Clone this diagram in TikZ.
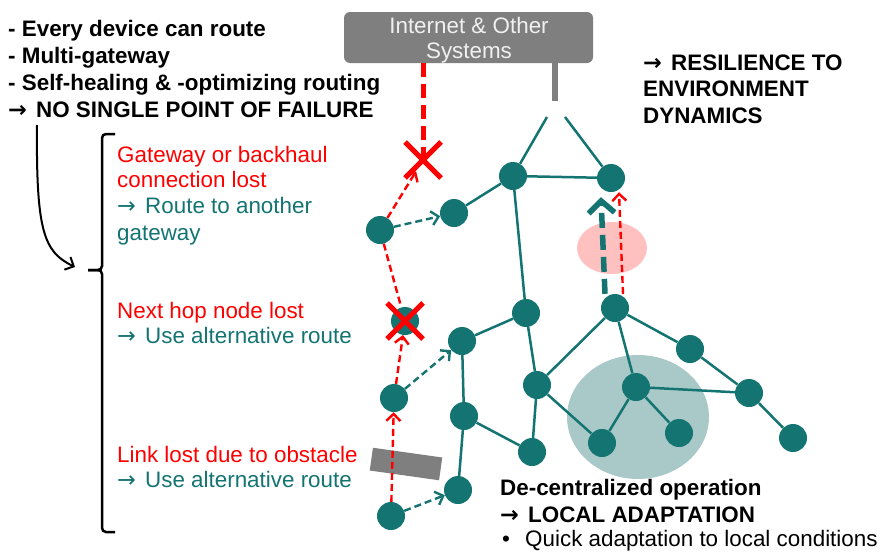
\documentclass[tikz,border=0pt]{standalone}
\usepackage{fontspec}
\setmainfont{Liberation Sans}
\newfontfamily\arrfont{DejaVu Sans}
\usetikzlibrary{arrows.meta,shapes.geometric}
\definecolor{teal1}{HTML}{137472}
\definecolor{ellteal}{HTML}{A9C9C8}
\definecolor{ellpink}{HTML}{FFC0C0}
\definecolor{boxgray}{HTML}{7F7F7F}
\definecolor{boxtext}{HTML}{F0F0F0}
\newcommand\tx{\fontsize{22.4}{26}\selectfont}
\newcommand\arw{{\arrfont →}\kern3pt}
\tikzset{
 tnode/.style={circle, fill=teal1, minimum size=28pt, inner sep=0pt},
 lnk/.style={draw=teal1, line width=2.5pt},
 rdashplain/.style={draw=red, line width=2.4pt, dash pattern=on 7pt off 4pt},
 rdash/.style={rdashplain, -{Straight Barb[length=7pt,width=14pt]}},
 tdash/.style={draw=teal1, line width=2.4pt, dash pattern=on 7pt off 4pt, -{Straight Barb[length=7pt,width=14pt]}},
 tthick/.style={draw=teal1, line width=5.5pt, dash pattern=on 15pt off 7pt, -{Straight Barb[length=12pt,width=26pt]}},
 rthick/.style={draw=red, line width=5pt, dash pattern=on 14pt off 7pt},
 xmk/.style={draw=red, line width=5pt},
 txt/.style={anchor=base west, inner sep=0pt, font=\tx},
 btxt/.style={anchor=base west, inner sep=0pt, font=\tx\bfseries},
 redtxt/.style={txt, text=red},
 teatxt/.style={txt, text=teal1},
}
\begin{document}
\begin{tikzpicture}[x=1pt,y=-1pt]
\useasboundingbox (0,0) rectangle (880,554);

% background ellipses
\node[ellipse, fill=ellteal, minimum width=142pt, minimum height=124pt, inner sep=0pt] (bigell) at (638,417) {};
\node[ellipse, fill=ellpink, minimum width=70pt, minimum height=52pt, inner sep=0pt] (pinkell) at (612,248) {};

% internet box
\node[rounded corners=6pt, fill=boxgray, minimum width=249pt, minimum height=51pt, inner sep=0pt] (inet) at (468.5,37.5) {};
\node[anchor=base, inner sep=0pt, font=\tx, text=boxtext] (inet1) at (469,33) {Internet \& Other};
\node[anchor=base, inner sep=0pt, font=\tx, text=boxtext] (inet2) at (469,58) {Systems};
\coordinate (stub) at (555,101);
\draw[boxgray, line width=5.5pt] (stub |- inet.south) -- (stub);

% obstacle
\node[fill=boxgray, minimum width=70pt, minimum height=23pt, inner sep=0pt, rotate=-8] (obs) at (406,464) {};

% network nodes
\node[tnode] (A) at (380,230) {};
\node[tnode] (B) at (454,213) {};
\node[tnode] (C) at (513,176) {};
\node[tnode] (D) at (611,178) {};
\node[tnode] (E) at (526,313) {};
\node[tnode] (F) at (615,308) {};
\node[tnode] (G) at (462,341) {};
\node[tnode] (H) at (394,398) {};
\node[tnode] (I) at (464,416) {};
\node[tnode] (J) at (537,385) {};
\node[tnode] (K) at (532,452) {};
\node[tnode] (L) at (391,516) {};
\node[tnode] (M) at (458,490) {};
\node[tnode] (N) at (602,443) {};
\node[tnode] (O) at (636,387) {};
\node[tnode] (P) at (690,349) {};
\node[tnode] (Q) at (749,393) {};
\node[tnode] (R) at (793,438) {};
\node[tnode] (S) at (679,433) {};
\node[tnode] (X2) at (405,321) {};
\node[circle, minimum size=26pt, inner sep=0pt] (X1) at (423,160) {};
\coordinate (t1) at (547,117);
\coordinate (t2) at (565,117);

% solid links
\draw[lnk] (B) -- (C);
\draw[lnk] (C) -- (D);
\draw[lnk] (C) -- (E);
\draw[lnk] (C) -- (t1);
\draw[lnk] (D) -- (t2);
\draw[lnk] (E) -- (G);
\draw[lnk] (E) -- (J);
\draw[lnk] (G) -- (I);
\draw[lnk] (I) -- (M);
\draw[lnk] (I) -- (K);
\draw[lnk] (J) -- (K);
\draw[lnk] (J) -- (F);
\draw[lnk] (J) -- (N);
\draw[lnk] (F) -- (O);
\draw[lnk] (F) -- (P);
\draw[lnk] (O) -- (N);
\draw[lnk] (O) -- (S);
\draw[lnk] (O) -- (Q);
\draw[lnk] (P) -- (Q);
\draw[lnk] (Q) -- (R);

% dashed routes
\draw[rthick] (X1 |- inet.south) -- (X1.center);
\draw[rdash] (A) -- (X1);
\draw[tdash] (A) -- (B);
\draw[rdashplain] (A) -- (X2);
\draw[rdash] (H) -- (X2);
\draw[tdash] (H) -- (G);
\draw[rdash] (L) -- (H);
\draw[tdash] (L) -- (M);
\draw[tthick] ([xshift=-10pt]F.north) -- ([xshift=-10pt,yshift=-5pt]D.south);
\draw[rdash] ([xshift=8pt]F.north) -- ([xshift=8pt]D.south);

% X marks
\draw[xmk] ([shift={(-18,-18)}]X1.center) -- ([shift={(18,18)}]X1.center);
\draw[xmk] ([shift={(18,-18)}]X1.center) -- ([shift={(-18,18)}]X1.center);
\draw[xmk] ([shift={(-18,-18)}]X2.center) -- ([shift={(18,18)}]X2.center);
\draw[xmk] ([shift={(18,-18)}]X2.center) -- ([shift={(-18,18)}]X2.center);

% top-left text
\node[btxt] (l1) at (8,36) {- Every device can route};
\node[btxt] (l2) at (8,63) {- Multi-gateway};
\node[btxt] (l3) at (8,90) {- Self-healing \& -optimizing routing};
\node[btxt] (l4) at (8,117) {\arw\ NO SINGLE POINT OF FAILURE};

% curved arrow and bracket
\coordinate (cstart) at (37,125);
\coordinate (cend) at (75,267);
\draw[line width=2pt, -{Straight Barb[length=7pt,width=14pt]}] (cstart) .. controls (36,232) and (44,252) .. (cend);
\draw[line width=2.5pt, rounded corners=4pt] (115,134) -- (102,134) -- (102,270) -- (88,270);
\draw[line width=2.5pt, rounded corners=4pt] (88,270) -- (102,270) -- (102,532) -- (115,532);

% left cases
\node[redtxt] (g1) at (117,162) {Gateway or backhaul};
\node[redtxt] (g2) at (117,187) {connection lost};
\node[teatxt] (g3) at (117,213) {\arw\ Route to another};
\node[teatxt] (g4) at (117,240) {gateway};
\node[redtxt] (n1) at (117,318) {Next hop node lost};
\node[teatxt] (n2) at (117,343) {\arw\ Use alternative route};
\node[redtxt] (o1) at (117,462) {Link lost due to obstacle};
\node[teatxt] (o2) at (117,487) {\arw\ Use alternative route};

% right text
\node[btxt] (r1) at (643,70) {\arw\ RESILIENCE TO};
\node[btxt] (r2) at (643,96) {ENVIRONMENT};
\node[btxt] (r3) at (643,123) {DYNAMICS};

% bottom text
\node[btxt] (d1) at (500,495) {De-centralized operation};
\node[btxt] (d2) at (500,522) {\arw\ LOCAL ADAPTATION};
\node[txt] (d3b) at (502,546) {•};
\node[txt] (d3) at (525,546) {Quick adaptation to local conditions};
\end{tikzpicture}
\end{document}
